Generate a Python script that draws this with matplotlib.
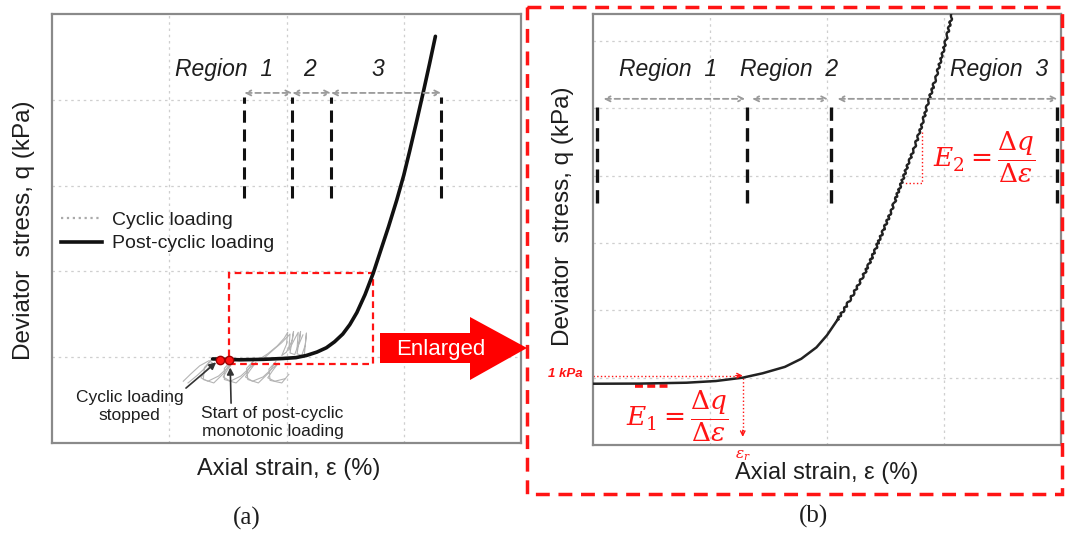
import matplotlib.pyplot as plt
from matplotlib.lines import Line2D
from matplotlib.patches import Polygon, Rectangle

plt.rcParams['font.family'] = ['Liberation Sans', 'DejaVu Sans']
plt.rcParams['mathtext.fontset'] = 'dejavuserif'

# (a) post-cyclic monotonic loading curve
post_x = [1.37, 1.60, 1.80, 1.97, 2.08, 2.17, 2.26, 2.34, 2.41, 2.48, 2.54, 2.60, 2.67,
          2.74, 2.80, 2.87, 2.94, 3.00, 3.05, 3.11, 3.17, 3.22, 3.27]
post_y = [0.98, 0.97, 0.975, 0.985, 0.995, 1.02, 1.06, 1.11, 1.18, 1.27, 1.38, 1.52, 1.73,
          1.98, 2.23, 2.52, 2.83, 3.12, 3.40, 3.75, 4.11, 4.42, 4.74]

# (a) cyclic loading loops
cyc_low_x = [1.12, 1.18, 1.26, 1.34, 1.37, 1.31, 1.27, 1.33, 1.42, 1.50, 1.55, 1.50, 1.46, 1.52,
             1.61, 1.69, 1.74, 1.69, 1.65, 1.71, 1.80, 1.88, 1.93, 1.88, 1.84, 1.90, 1.99]
cyc_low_y = [0.72, 0.80, 0.90, 0.96, 0.93, 0.84, 0.76, 0.72, 0.78, 0.88, 0.95, 0.86, 0.77, 0.72,
             0.78, 0.88, 0.94, 0.85, 0.77, 0.72, 0.77, 0.87, 0.93, 0.84, 0.76, 0.72, 0.75]
cyc_low2_x = [1.16, 1.24, 1.31, 1.36, 1.30, 1.29, 1.38, 1.47, 1.53, 1.47, 1.47, 1.57, 1.66,
              1.72, 1.66, 1.67, 1.76, 1.85, 1.91, 1.85, 1.86, 1.96, 2.02]
cyc_low2_y = [0.70, 0.79, 0.88, 0.97, 0.88, 0.74, 0.70, 0.82, 0.96, 0.87, 0.74, 0.70, 0.82,
              0.96, 0.87, 0.74, 0.70, 0.82, 0.95, 0.86, 0.73, 0.70, 0.80]
cyc_up_x = [1.76, 1.84, 1.92, 1.98, 2.01, 2.00, 1.96, 2.00, 2.05, 2.06, 2.03, 2.07, 2.11,
            2.12, 2.09, 2.13, 2.16, 2.17, 2.15]
cyc_up_y = [0.97, 1.04, 1.13, 1.22, 1.29, 1.15, 1.02, 1.06, 1.20, 1.30, 1.05, 1.03, 1.18,
            1.30, 1.04, 1.02, 1.14, 1.28, 1.00]
cyc_up2_x = [1.80, 1.90, 1.96, 2.03, 2.02, 2.08, 2.10, 2.09, 2.14]
cyc_up2_y = [0.98, 1.10, 1.17, 1.27, 1.08, 1.24, 1.29, 1.10, 1.26]

stop_pts_x = [1.43, 1.51]
stop_pts_y = [0.97, 0.97]

# (b) enlarged curve: smooth start, then the part with the cyclic ripple
enl_low_x = [0.0, 0.4, 0.8, 1.05, 1.28, 1.45, 1.64, 1.78, 1.91, 2.00, 2.09]
enl_low_y = [0.91, 0.912, 0.925, 0.95, 1.00, 1.065, 1.16, 1.28, 1.45, 1.63, 1.86]
enl_up_x = [2.09, 2.16, 2.23, 2.29, 2.35, 2.41, 2.47, 2.53, 2.58, 2.63, 2.68, 2.74, 2.79,
            2.83, 2.87, 2.93, 2.98, 3.03, 3.07]
enl_up_y = [1.86, 2.05, 2.26, 2.45, 2.65, 2.89, 3.14, 3.39, 3.62, 3.86, 4.11, 4.38, 4.64,
            4.87, 5.12, 5.45, 5.77, 6.10, 6.40]

# region boundaries and labels
reg_a = [1.64, 2.05, 2.38, 3.32]
reg_a_labels = ['Region  1', '2', '3']
reg_a_label_x = [1.47, 2.20, 2.78]
reg_b = [0.03, 1.32, 2.03, 3.97]
reg_b_labels = ['Region  1', 'Region  2', 'Region  3']
reg_b_label_x = [0.64, 1.68, 3.47]
reg_b_arrows = [(0.09, 1.30), (1.36, 2.01), (2.09, 3.97)]

eps_r = 1.28
q_1kpa = 1.03

W, H = 1067, 535
fig = plt.figure(figsize=(W / 100, H / 100), dpi=100)


def px_axes(l, t, r, b):
    return fig.add_axes([l / W, 1 - b / H, (r - l) / W, (b - t) / H])


axa = px_axes(52, 14, 521, 443)
axb = px_axes(593, 14, 1061, 445)

axa.set_xlim(0, 4)
axa.set_ylim(0, 5)
axb.set_xlim(0, 4)
axb.set_ylim(0, 6.4)
axa.set_yticks([1, 2, 3, 4])
axb.set_yticks([1, 2, 3, 4, 5, 6])

txt = '#1e1e1e'
red = '#ff1414'
for ax in (axa, axb):
    ax.set_xticks([1, 2, 3])
    ax.tick_params(length=0, labelbottom=False, labelleft=False)
    ax.grid(True, color='#cfcfcf', ls=(0, (2, 3)), lw=0.9)
    ax.set_axisbelow(True)
    for s in ax.spines.values():
        s.set_color('#8a8a8a')
        s.set_linewidth(1.6)
    ax.set_xlabel('Axial strain, ε (%)', fontsize=17, color=txt)
    ax.set_ylabel('Deviator  stress, q (kPa)', fontsize=17.5, color=txt)

axa.xaxis.set_label_coords(0.505, -0.035)
axa.yaxis.set_label_coords(-0.036, 0.497)
axb.xaxis.set_label_coords(0.5, -0.040)
axb.yaxis.set_label_coords(-0.040, 0.53)

# ---- panel (a) ----
for xs, ys in [(cyc_low_x, cyc_low_y), (cyc_low2_x, cyc_low2_y),
               (cyc_up_x, cyc_up_y), (cyc_up2_x, cyc_up2_y)]:
    axa.plot(xs, ys, color='#b4b4b4', lw=0.8, zorder=2)
axa.plot(post_x, post_y, color='#111111', lw=2.6, zorder=3,
         solid_capstyle='round', solid_joinstyle='round')
axa.plot(stop_pts_x, stop_pts_y, 'o', color=red, mec='#a00000', ms=6, zorder=4)

axa.add_patch(Rectangle((1.51, 0.92), 2.74 - 1.51, 1.98 - 0.92, fill=False,
                        ec=red, lw=1.6, ls=(0, (3, 2)), zorder=2.5))

for x in reg_a:
    axa.plot([x, x], [2.85, 4.03], color='#111111', lw=2.2, ls=(0, (4, 2.2)))
for x0, x1 in zip(reg_a[:-1], reg_a[1:]):
    axa.annotate('', xy=(x1, 4.08), xytext=(x0, 4.08),
                 arrowprops=dict(arrowstyle='<->', color='#9a9a9a', lw=1.3,
                                 ls=(0, (3, 2)), shrinkA=0, shrinkB=0,
                                 mutation_scale=9))
for lab, x in zip(reg_a_labels, reg_a_label_x):
    axa.text(x, 4.35, lab, ha='center', va='center', style='italic',
             fontsize=16.5, color=txt)

handles = [Line2D([], [], color='#aaaaaa', ls=':', lw=1.6),
           Line2D([], [], color='#111111', lw=2.6)]
axa.legend(handles, ['Cyclic loading', 'Post-cyclic loading'], loc='upper left',
           bbox_to_anchor=(0.02, 0.54), frameon=False, fontsize=14,
           handlelength=2.1, handletextpad=0.5, labelspacing=0.3,
           borderpad=0, borderaxespad=0, labelcolor=txt)

axa.annotate('Cyclic loading\nstopped', xy=(1.40, 0.94), xytext=(0.66, 0.42),
             ha='center', va='center', fontsize=12.5, color=txt, linespacing=1.25,
             arrowprops=dict(arrowstyle='-|>', color='#333333', lw=1.2,
                             mutation_scale=10, shrinkA=0, shrinkB=0,
                             relpos=(1.0, 1.0)))
axa.annotate('Start of post-cyclic\nmonotonic loading', xy=(1.52, 0.88),
             xytext=(1.88, 0.24), ha='center', va='center', fontsize=12.5,
             color=txt, linespacing=1.25,
             arrowprops=dict(arrowstyle='-|>', color='#333333', lw=1.2,
                             mutation_scale=10, shrinkA=0, shrinkB=0,
                             relpos=(0.21, 1.0)))

# ---- panel (b) ----
axb.plot(enl_low_x, enl_low_y, color='#222222', lw=1.8, zorder=3,
         solid_joinstyle='round')
ripple, = axb.plot(enl_up_x, enl_up_y, color='#222222', lw=1.7, zorder=3)
ripple.set_sketch_params(scale=1.0, length=6, randomness=0.5)

for x in reg_b:
    axb.plot([x, x], [3.6, 5.1], color='#111111', lw=2.4, ls=(0, (4, 2.2)),
             clip_on=False)
for x0, x1 in reg_b_arrows:
    axb.annotate('', xy=(x1, 5.14), xytext=(x0, 5.14),
                 arrowprops=dict(arrowstyle='<->', color='#9a9a9a', lw=1.3,
                                 ls=(0, (3, 2)), shrinkA=0, shrinkB=0,
                                 mutation_scale=9))
for lab, x in zip(reg_b_labels, reg_b_label_x):
    axb.text(x, 5.57, lab, ha='center', va='center', style='italic',
             fontsize=16.5, color=txt)

# threshold at 1 kPa and the strain it defines
axb.plot([0, eps_r - 0.04], [q_1kpa, q_1kpa], color=red, lw=1.0, ls=':')
axb.annotate('', xy=(eps_r, q_1kpa), xytext=(eps_r - 0.06, q_1kpa),
             arrowprops=dict(arrowstyle='->', color=red, lw=1.0,
                             shrinkA=0, shrinkB=0, mutation_scale=8))
axb.plot([eps_r, eps_r], [q_1kpa - 0.03, 0.20], color=red, lw=1.0, ls=':')
axb.annotate('', xy=(eps_r, 0.12), xytext=(eps_r, 0.22),
             arrowprops=dict(arrowstyle='->', color=red, lw=1.0,
                             shrinkA=0, shrinkB=0, mutation_scale=8))
axb.plot([0.36, 0.66], [0.88, 0.88], color=red, lw=2.6, ls=(0, (2.2, 1.2)))
axb.text(-0.085, 1.05, '1 kPa', ha='right', va='center', fontsize=9.5,
         fontweight='bold', style='italic', color=red, clip_on=False)
axb.text(eps_r, -0.16, r'$\varepsilon_r$', ha='center', va='center',
         fontsize=11, color=red, clip_on=False)

axb.plot([2.81, 2.81, 2.65], [4.65, 3.89, 3.89], color=red, lw=1.0, ls=':')

axb.text(0.28, 0.43, r'$E_1 = \dfrac{\Delta q}{\Delta \varepsilon}$', ha='left',
         va='center', fontsize=19, color=red)
axb.text(2.91, 4.27, r'$E_2 = \dfrac{\Delta q}{\Delta \varepsilon}$', ha='left',
         va='center', fontsize=19, color=red)

# ---- overlay: enlargement frame, arrow and panel tags ----
ov = fig.add_axes([0, 0, 1, 1])
ov.set_xlim(0, W)
ov.set_ylim(H, 0)
ov.axis('off')
ov.patch.set_alpha(0)

ov.add_patch(Rectangle((527, 7), 535, 487, fill=False, ec=red, lw=2.5,
                       ls=(0, (4, 2.5))))
ov.add_patch(Polygon([(380, 333), (470, 333), (470, 317), (527, 348),
                      (470, 380), (470, 363), (380, 363)], closed=True,
                     fc='#ff0000', ec='none'))
ov.text(441, 349, 'Enlarged', ha='center', va='center', fontsize=16,
        color='white')

ov.text(247, 518, '(a)', ha='center', va='center', fontsize=18,
        family='Liberation Serif', color=txt)
ov.text(814, 516, '(b)', ha='center', va='center', fontsize=18,
        family='Liberation Serif', color=txt)

fig.savefig('out.png', dpi=100)
